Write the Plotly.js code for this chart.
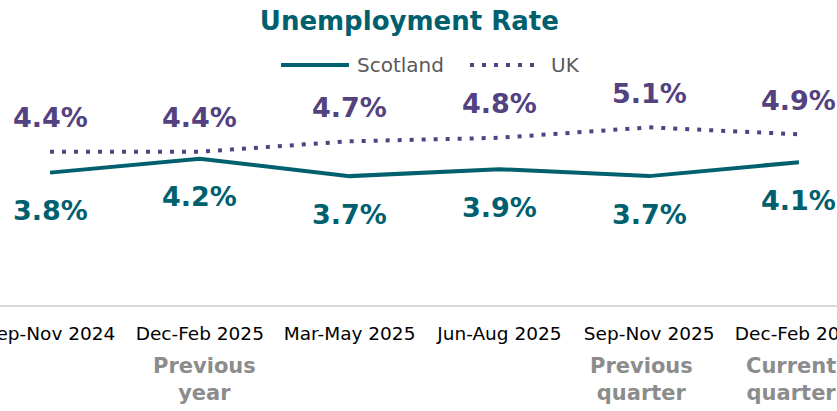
<!DOCTYPE html>
<html>
<head>
<meta charset="utf-8">
<script src="https://cdn.plot.ly/plotly-3.0.1.min.js"></script>
<style>html,body{margin:0;padding:0;background:#fff;}#chart{width:837px;height:411px;}</style>
</head>
<body>
<div id="chart"></div>
<script>
const categories = ["Sep-Nov 2024", "Dec-Feb 2025", "Mar-May 2025", "Jun-Aug 2025", "Sep-Nov 2025", "Dec-Feb 2026"];
const scotland = [3.8, 4.2, 3.7, 3.9, 3.7, 4.1];
const uk = [4.4, 4.4, 4.7, 4.8, 5.1, 4.9];
const periodNotes = ["", "Previous<br>year", "", "", "Previous<br>quarter", "Current<br>quarter"];
const seriesNames = ["Scotland", "UK"];

const TEAL = "#00606E";
const PURPLE = "#53427F";
const FONT = "DejaVu Sans, Verdana, sans-serif";
const W = 837, H = 411, MT = 96, MB = 106;
const PH = H - MT - MB;
const px2x = p => p / W;
const px2y = p => (H - MB - p) / PH;

const traces = [
  {x: categories, y: scotland, name: seriesNames[0], type: "scatter", mode: "lines",
   line: {color: TEAL, width: 4}, hoverinfo: "skip", showlegend: false},
  {x: categories, y: uk, name: seriesNames[1], type: "scatter", mode: "lines",
   line: {color: PURPLE, width: 4, dash: "4px,8px"}, hoverinfo: "skip", showlegend: false}
];

const annotations = [];
categories.forEach((c, i) => {
  annotations.push({x: c, y: uk[i], xref: "x", yref: "y", text: uk[i].toFixed(1) + "%",
    showarrow: false, yshift: 34, font: {family: FONT, size: 27, color: PURPLE, weight: "bold"}});
  annotations.push({x: c, y: scotland[i], xref: "x", yref: "y", text: scotland[i].toFixed(1) + "%",
    showarrow: false, yshift: -38, font: {family: FONT, size: 27, color: TEAL, weight: "bold"}});
  if (periodNotes[i]) {
    annotations.push({x: c, y: 0, xref: "x", yref: "paper", text: periodNotes[i],
      showarrow: false, yanchor: "top", yshift: -47, xshift: (i === 1 ? 5 : -8),
      font: {family: FONT, size: 21, color: "#8C8C8C", weight: "bold"}});
  }
});

// legend (drawn manually to match the long line samples)
const legY = 65;
const shapes = [
  {type: "line", xref: "paper", yref: "paper", x0: px2x(281), x1: px2x(349), y0: px2y(legY), y1: px2y(legY),
   line: {color: TEAL, width: 4}},
  {type: "line", xref: "paper", yref: "paper", x0: px2x(470), x1: px2x(540), y0: px2y(legY), y1: px2y(legY),
   line: {color: PURPLE, width: 4, dash: "4px,8px"}}
];
annotations.push({xref: "paper", yref: "paper", x: px2x(355), y: px2y(legY), xanchor: "left", yanchor: "middle",
  text: seriesNames[0], showarrow: false, font: {family: FONT, size: 20, color: "#595959"}});
annotations.push({xref: "paper", yref: "paper", x: px2x(549), y: px2y(legY), xanchor: "left", yanchor: "middle",
  text: seriesNames[1], showarrow: false, font: {family: FONT, size: 20, color: "#595959"}});

const layout = {
  width: W, height: H,
  margin: {l: 0, r: 0, t: MT, b: MB, pad: 0},
  paper_bgcolor: "#fff", plot_bgcolor: "#fff",
  title: {text: "<b>Unemployment Rate</b>", x: 0.489, xanchor: "center", y: 0.95, yref: "container", yanchor: "middle",
    font: {family: FONT, size: 26, color: TEAL}},
  showlegend: false,
  xaxis: {type: "category", range: [-0.334, 5.254], showline: true, linecolor: "#D9D9D9", linewidth: 2,
    showgrid: false, zeroline: false, ticks: "", ticklabelstandoff: 11,
    tickfont: {family: FONT, size: 18.5, color: "#000"}, fixedrange: true},
  yaxis: {visible: false, range: [0, 6], fixedrange: true},
  shapes: shapes,
  annotations: annotations
};

Plotly.newPlot("chart", traces, layout, {displayModeBar: false, staticPlot: true});
</script>
</body>
</html>
